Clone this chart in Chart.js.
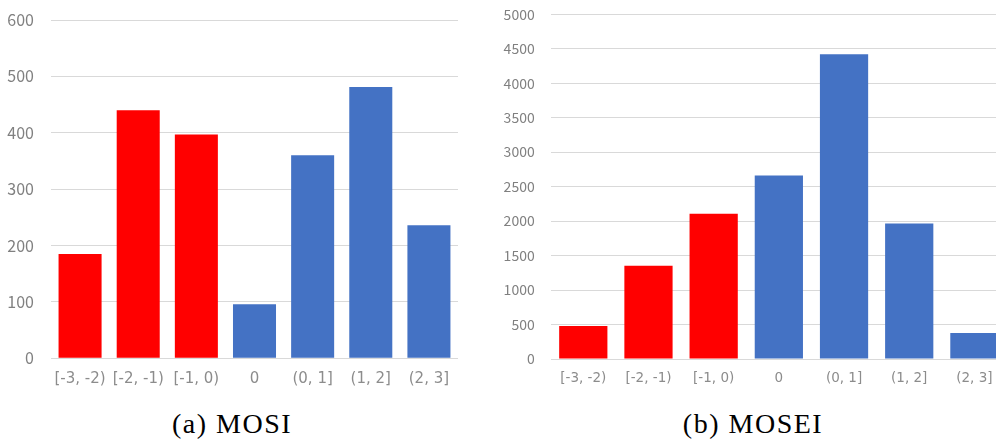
<!DOCTYPE html>
<html>
<head>
<meta charset="utf-8">
<script src="https://cdn.jsdelivr.net/npm/chart.js@4.4.1/dist/chart.umd.min.js"></script>
<style>
  html, body { margin: 0; padding: 0; background: #fff; }
  body { width: 996px; height: 444px; overflow: hidden; position: relative; }
  .panel { position: absolute; top: 0; height: 400px; }
  #mosiBox { left: 0; width: 470px; }
  #moseiBox { left: 500px; width: 520px; }
  .caption {
    position: absolute; top: 408px; width: 300px; text-align: center;
    font-family: "Liberation Serif", serif; font-size: 28px; color: #000;
    letter-spacing: 1.5px;
  }
</style>
</head>
<body>
<div class="panel" id="mosiBox"><canvas id="mosiChart"></canvas></div>
<div class="panel" id="moseiBox"><canvas id="moseiChart"></canvas></div>
<div class="caption" style="left: 82px;">(a) MOSI</div>
<div class="caption" style="left: 603px;">(b) MOSEI</div>
<script>
// sentiment score bins
const categories = ["[-3, -2)", "[-2, -1)", "[-1, 0)", "0", "(0, 1]", "(1, 2]", "(2, 3]"];
// sample counts per bin
const mosiCounts = [185, 440, 397, 96, 360, 481, 236];
const moseiCounts = [478, 1352, 2106, 2662, 4420, 1967, 377];
// negative bins red, the rest blue
const binColors = ["#FF0000", "#FF0000", "#FF0000", "#4472C4", "#4472C4", "#4472C4", "#4472C4"];
const mosiMax = 600, mosiStep = 100;
const moseiMax = 5000, moseiStep = 500;

const yFont = "'Noto Sans CJK JP', 'Noto Sans', sans-serif";
const xFont = "'DejaVu Sans', sans-serif";

function makeChart(id, values, max, step, cfg) {
    return new Chart(document.getElementById(id), {
        type: "bar",
        data: {
            labels: categories,
            datasets: [{
                data: values,
                backgroundColor: binColors,
                borderWidth: 0,
                barPercentage: 0.74,
                categoryPercentage: 1.0
            }]
        },
        options: {
            responsive: true,
            maintainAspectRatio: false,
            animation: false,
            plugins: { legend: { display: false }, tooltip: { enabled: false } },
            layout: { padding: { top: cfg.top, right: cfg.right, left: 0, bottom: 0 } },
            scales: {
                x: {
                    grid: { display: false },
                    border: { display: false },
                    ticks: {
                        color: "#8c8c8c", padding: cfg.xPad, maxRotation: 0, autoSkip: false,
                        font: { family: xFont, size: cfg.xSize }
                    },
                    afterFit: function (scale) {
                        scale.height = cfg.xHeight;
                        scale.paddingLeft = 0;
                        scale.paddingRight = 0;
                    }
                },
                y: {
                    min: 0, max: max,
                    grid: { color: "#D9D9D9", lineWidth: 1, drawTicks: false },
                    border: { display: false },
                    ticks: {
                        stepSize: step, color: "#808080", padding: cfg.yPad,
                        font: { family: yFont, size: cfg.ySize },
                        callback: function (v) { return String(v); }
                    },
                    afterFit: function (scale) {
                        scale.width = cfg.yWidth;
                        scale.paddingTop = 0;
                        scale.paddingBottom = 0;
                    }
                }
            }
        }
    });
}

makeChart("mosiChart", mosiCounts, mosiMax, mosiStep, {
    top: 20, right: 12, xPad: 4, xSize: 15, xHeight: 41.7, yPad: 17, ySize: 16, yWidth: 51
});
makeChart("moseiChart", moseiCounts, moseiMax, moseiStep, {
    top: 14.3, right: 13, xPad: 3, xSize: 13.5, xHeight: 41, yPad: 16, ySize: 14, yWidth: 50.7
});
</script>
</body>
</html>
